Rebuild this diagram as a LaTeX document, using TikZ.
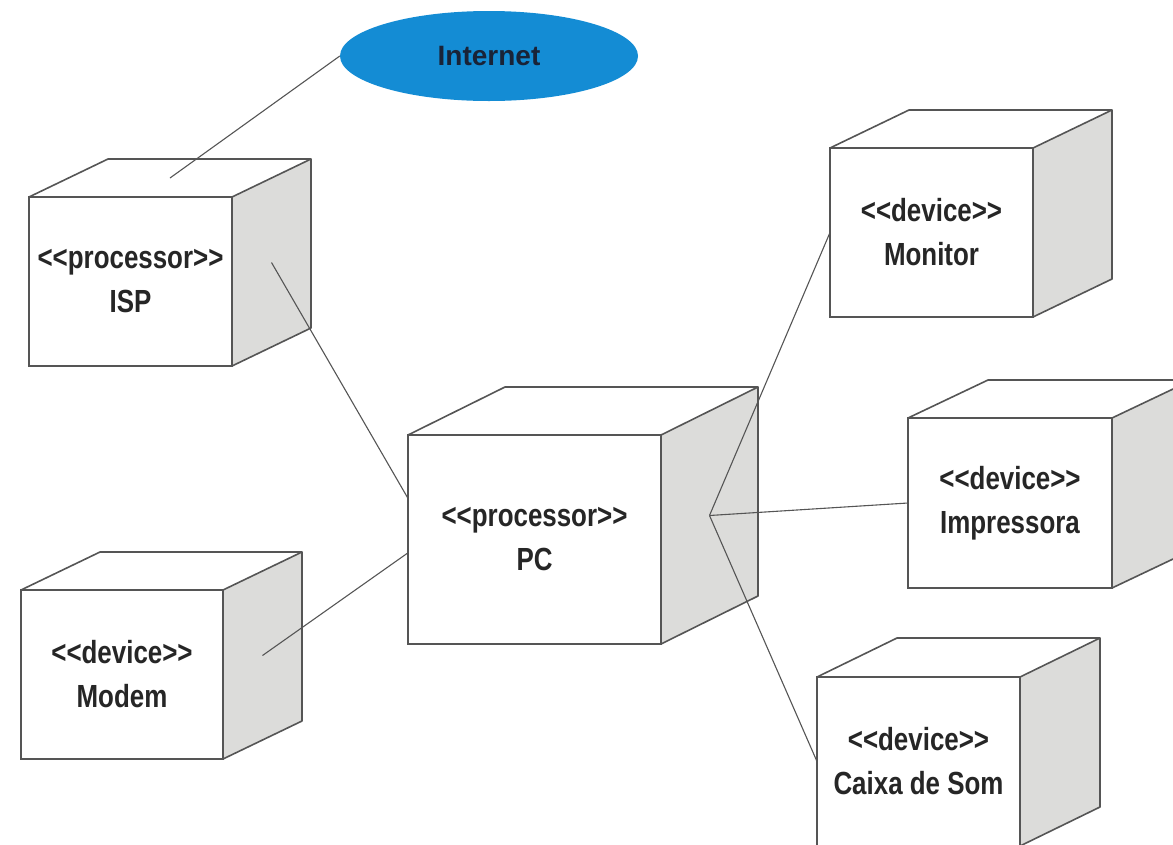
\documentclass[tikz,border=0pt]{standalone}
\usepackage{fontspec}
\newfontfamily\umlfont{Liberation Sans}[FakeStretch=0.81]
\newfontfamily\cloudfont{Liberation Sans}
\usetikzlibrary{shapes.geometric,calc}
\definecolor{edgegray}{RGB}{85,85,85}
\definecolor{sidegray}{RGB}{220,220,218}
\definecolor{netblue}{RGB}{20,140,212}
\definecolor{netink}{RGB}{25,35,55}
\tikzset{
	cube/.style={draw=edgegray, line width=1.6pt, fill=white, inner sep=0pt, outer sep=0pt, align=center,
		font=\umlfont\bfseries\fontsize{32}{44}\selectfont, text=black!85,
		minimum width=203pt, minimum height=169pt},
	face/.style={draw=edgegray, line width=1.6pt, line join=round},
	link/.style={draw=edgegray, line width=1.1pt}
}
\begin{document}
\begin{tikzpicture}[x=1pt, y=-1pt]
	\path[use as bounding box, clip] (0,0) rectangle (1173,844);

\node[ellipse, fill=netblue, minimum width=298pt, minimum height=90pt, inner sep=0pt,
	font=\cloudfont\bfseries\fontsize{28}{34}\selectfont, text=netink] (internet) at (489,56) {Internet};

\node[cube] (isp) at (130.5,281.5) {<<processor>>\\ISP};
\node[cube, minimum width=253pt, minimum height=209pt] (pc) at (534.5,539.5) {<<processor>>\\PC};
\node[cube, minimum width=202pt] (modem) at (122,674.5) {<<device>>\\Modem};
\node[cube] (monitor) at (931.5,232.5) {<<device>>\\Monitor};
\node[cube, minimum width=204pt, minimum height=170pt] (impressora) at (1010,503) {<<device>>\\Impressora};
\node[cube] (caixa) at (918.5,761.5) {<<device>>\\Caixa de Som};

	\foreach \n/\dx/\dy in {isp/79/-38, pc/97/-48, modem/79/-38, monitor/79/-38, impressora/80/-38, caixa/80/-39}
	{
		\draw[face, fill=sidegray] (\n.north east) -- ++(\dx,\dy) -- ($(\n.south east)+(\dx,\dy)$) -- (\n.south east) -- cycle;
		\draw[face] (\n.north west) -- ++(\dx,\dy) -- ($(\n.north east)+(\dx,\dy)$);
		\coordinate (\n-top) at ($(\n.north)+(\dx/2,\dy/2)$);
		\coordinate (\n-side) at ($(\n.east)+(\dx/2,\dy/2)$);
	}

\draw[link] (isp-top) -- (internet.west);
\draw[link] (isp-side) -- (pc.162);
\draw[link] (modem-side) -- (pc.186);
\draw[link] (pc-side) -- (monitor.west);
\draw[link] (pc-side) -- (impressora.west);
\draw[link] (pc-side) -- (caixa.west);

	\end{tikzpicture}
\end{document}
